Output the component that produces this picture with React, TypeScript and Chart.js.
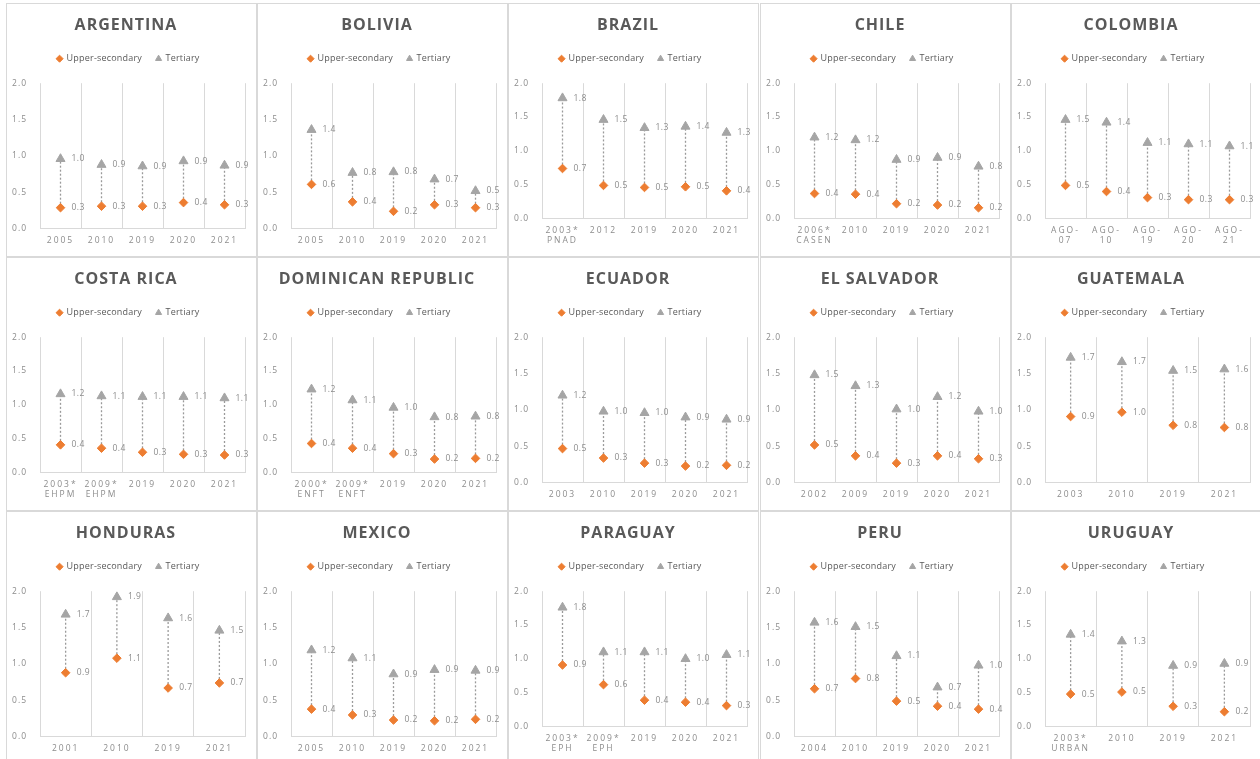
import React, { useEffect, useRef } from 'react';
import { Chart, registerables } from 'chart.js';

Chart.register(...registerables);

// ---------------- data ----------------
const seriesNames = ['Upper-secondary', 'Tertiary'];

const argentinaYears = ['2005', '2010', '2019', '2020', '2021'];
const argentinaUpper = [0.29, 0.31, 0.31, 0.36, 0.33];
const argentinaTertiary = [0.96, 0.88, 0.86, 0.93, 0.87];

const boliviaYears = ['2005', '2010', '2019', '2020', '2021'];
const boliviaUpper = [0.61, 0.37, 0.24, 0.33, 0.29];
const boliviaTertiary = [1.36, 0.77, 0.78, 0.68, 0.52];

const brazilYears = [['2003*', 'PNAD'], '2012', '2019', '2020', '2021'];
const brazilUpper = [0.74, 0.49, 0.46, 0.47, 0.41];
const brazilTertiary = [1.78, 1.46, 1.34, 1.36, 1.27];

const chileYears = [['2006*', 'CASEN'], '2010', '2019', '2020', '2021'];
const chileUpper = [0.37, 0.36, 0.22, 0.2, 0.16];
const chileTertiary = [1.2, 1.16, 0.87, 0.9, 0.77];

const colombiaYears = [['AGO-', '07'], ['AGO-', '10'], ['AGO-', '19'], ['AGO-', '20'], ['AGO-', '21']];
const colombiaUpper = [0.49, 0.4, 0.31, 0.28, 0.28];
const colombiaTertiary = [1.46, 1.42, 1.12, 1.1, 1.07];

const costaRicaYears = [['2003*', 'EHPM'], ['2009*', 'EHPM'], '2019', '2020', '2021'];
const costaRicaUpper = [0.41, 0.36, 0.3, 0.27, 0.26];
const costaRicaTertiary = [1.16, 1.13, 1.12, 1.12, 1.1];

const dominicanYears = [['2000*', 'ENFT'], ['2009*', 'ENFT'], '2019', '2020', '2021'];
const dominicanUpper = [0.43, 0.36, 0.28, 0.2, 0.21];
const dominicanTertiary = [1.23, 1.07, 0.96, 0.82, 0.83];

const ecuadorYears = ['2003', '2010', '2019', '2020', '2021'];
const ecuadorUpper = [0.47, 0.34, 0.27, 0.23, 0.24];
const ecuadorTertiary = [1.2, 0.98, 0.96, 0.9, 0.87];

const elSalvadorYears = ['2002', '2009', '2019', '2020', '2021'];
const elSalvadorUpper = [0.52, 0.37, 0.27, 0.37, 0.33];
const elSalvadorTertiary = [1.48, 1.33, 1.01, 1.18, 0.98];

const guatemalaYears = ['2003', '2010', '2019', '2021'];
const guatemalaUpper = [0.91, 0.97, 0.79, 0.76];
const guatemalaTertiary = [1.72, 1.66, 1.54, 1.56];

const hondurasYears = ['2001', '2010', '2019', '2021'];
const hondurasUpper = [0.88, 1.08, 0.67, 0.74];
const hondurasTertiary = [1.68, 1.92, 1.63, 1.46];

const mexicoYears = ['2005', '2010', '2019', '2020', '2021'];
const mexicoUpper = [0.38, 0.3, 0.23, 0.22, 0.24];
const mexicoTertiary = [1.19, 1.08, 0.86, 0.92, 0.91];

const paraguayYears = [['2003*', 'EPH'], ['2009*', 'EPH'], '2019', '2020', '2021'];
const paraguayUpper = [0.91, 0.62, 0.39, 0.36, 0.31];
const paraguayTertiary = [1.76, 1.1, 1.1, 1.0, 1.06];

const peruYears = ['2004', '2010', '2019', '2020', '2021'];
const peruUpper = [0.66, 0.8, 0.49, 0.42, 0.38];
const peruTertiary = [1.57, 1.51, 1.11, 0.68, 0.98];

const uruguayYears = [['2003*', 'URBAN'], '2010', '2019', '2021'];
const uruguayUpper = [0.48, 0.51, 0.3, 0.22];
const uruguayTertiary = [1.36, 1.26, 0.9, 0.93];

const yTicks = [0, 0.5, 1.0, 1.5, 2.0];

const panels = [
  { title: 'ARGENTINA', labels: argentinaYears, upper: argentinaUpper, tertiary: argentinaTertiary },
  { title: 'BOLIVIA', labels: boliviaYears, upper: boliviaUpper, tertiary: boliviaTertiary },
  { title: 'BRAZIL', labels: brazilYears, upper: brazilUpper, tertiary: brazilTertiary },
  { title: 'CHILE', labels: chileYears, upper: chileUpper, tertiary: chileTertiary },
  { title: 'COLOMBIA', labels: colombiaYears, upper: colombiaUpper, tertiary: colombiaTertiary },
  { title: 'COSTA RICA', labels: costaRicaYears, upper: costaRicaUpper, tertiary: costaRicaTertiary },
  { title: 'DOMINICAN REPUBLIC', labels: dominicanYears, upper: dominicanUpper, tertiary: dominicanTertiary },
  { title: 'ECUADOR', labels: ecuadorYears, upper: ecuadorUpper, tertiary: ecuadorTertiary },
  { title: 'EL SALVADOR', labels: elSalvadorYears, upper: elSalvadorUpper, tertiary: elSalvadorTertiary },
  { title: 'GUATEMALA', labels: guatemalaYears, upper: guatemalaUpper, tertiary: guatemalaTertiary },
  { title: 'HONDURAS', labels: hondurasYears, upper: hondurasUpper, tertiary: hondurasTertiary },
  { title: 'MEXICO', labels: mexicoYears, upper: mexicoUpper, tertiary: mexicoTertiary },
  { title: 'PARAGUAY', labels: paraguayYears, upper: paraguayUpper, tertiary: paraguayTertiary },
  { title: 'PERU', labels: peruYears, upper: peruUpper, tertiary: peruTertiary },
  { title: 'URUGUAY', labels: uruguayYears, upper: uruguayUpper, tertiary: uruguayTertiary },
];

// ---------------- styling ----------------
const FONT = "'Open Sans', 'Noto Sans', 'DejaVu Sans', sans-serif";
const ORANGE = '#ED7D31';
const GREY = '#A5A5A5';
const TITLE_COLOR = '#595959';
const TICK_COLOR = '#8c8c8c';
const LABEL_COLOR = '#8c8c8c';
const GRID = '#d9d9d9';

const COL_LEFT = [6, 257, 508, 760, 1011];
const ROW_TOP = [3, 257, 511];
const PANEL_W = 251;
const PANEL_H = 254;

const fmt = (v: number) => (Math.round(v * 10) / 10).toFixed(1);

function patchSpacing(obj: any, key: string, spacing: string) {
  if (!obj || !obj[key]) return;
  const flag = '__ls_' + key;
  if (obj[flag]) return;
  const orig = obj[key];
  obj[key] = function (...args: any[]) {
    const ctx = this.ctx;
    const prev = ctx.letterSpacing;
    ctx.letterSpacing = spacing;
    try {
      return orig.apply(this, args);
    } finally {
      ctx.letterSpacing = prev;
    }
  };
  obj[flag] = true;
}

const spacingPlugin = {
  id: 'spacingPlugin',
  beforeLayout(chart: any) {
    const lg = chart.legend;
    if (lg && !lg.__gap) {
      const fit = lg.fit;
      lg.fit = function () {
        fit.call(this);
        this.height += 10;
      };
      lg.__gap = true;
    }
  },
  beforeDraw(chart: any) {
    patchSpacing(chart.titleBlock, 'draw', '1px');
    patchSpacing(chart.legend, 'draw', '0.2px');
    patchSpacing(chart.scales.x, 'drawLabels', '2px');
    patchSpacing(chart.scales.y, 'drawLabels', '1px');
  },
};

const dumbbellPlugin = {
  id: 'dumbbellPlugin',
  beforeDatasetsDraw(chart: any) {
    const ctx = chart.ctx;
    const m0 = chart.getDatasetMeta(0);
    const m1 = chart.getDatasetMeta(1);
    ctx.save();
    ctx.strokeStyle = '#9a9a9a';
    ctx.lineWidth = 1.3;
    ctx.setLineDash([2, 2]);
    m0.data.forEach((p: any, i: number) => {
      const q = m1.data[i];
      if (!q) return;
      ctx.beginPath();
      ctx.moveTo(p.x, p.y);
      ctx.lineTo(q.x, q.y);
      ctx.stroke();
    });
    ctx.restore();
  },
  afterDatasetsDraw(chart: any) {
    const ctx = chart.ctx;
    ctx.save();
    ctx.fillStyle = LABEL_COLOR;
    ctx.font = `8.5px ${FONT}`;
    ctx.letterSpacing = '0.5px';
    ctx.textAlign = 'left';
    ctx.textBaseline = 'middle';
    chart.data.datasets.forEach((ds: any, di: number) => {
      const meta = chart.getDatasetMeta(di);
      meta.data.forEach((p: any, i: number) => {
        ctx.fillText(fmt(ds.data[i]), p.x + 11, p.y);
      });
    });
    ctx.restore();
  },
};

function Panel(props: any) {
  const { title, labels, upper, tertiary, left, top } = props;
  const ref = useRef<HTMLCanvasElement>(null);
  useEffect(() => {
    const lines = Math.max(...labels.map((l: any) => (Array.isArray(l) ? l.length : 1)));
    const chart = new Chart(ref.current as HTMLCanvasElement, {
      type: 'line',
      data: {
        labels,
        datasets: [
          {
            label: seriesNames[0],
            data: upper,
            showLine: false,
            pointStyle: 'rectRot',
            pointRadius: 4.3,
            pointHoverRadius: 4.3,
            pointBorderWidth: 1,
            backgroundColor: ORANGE,
            borderColor: ORANGE,
          },
          {
            label: seriesNames[1],
            data: tertiary,
            showLine: false,
            pointStyle: 'triangle',
            pointRadius: 5.2,
            pointHoverRadius: 5.2,
            pointBorderWidth: 1,
            backgroundColor: GREY,
            borderColor: GREY,
          },
        ],
      } as any,
      options: {
        animation: false,
        responsive: false,
        maintainAspectRatio: false,
        layout: { autoPadding: false, padding: { top: 0, left: 0, right: 11, bottom: 10 } },
        plugins: {
          title: {
            display: true,
            text: title,
            color: TITLE_COLOR,
            font: { family: FONT, size: 16, weight: 'bold' },
            padding: { top: 12, bottom: 5 },
          },
          legend: {
            display: true,
            position: 'top',
            labels: {
              usePointStyle: true,
              boxWidth: 5,
              boxHeight: 5,
              padding: 14,
              color: TITLE_COLOR,
              font: { family: FONT, size: 9 },
            },
          },
          tooltip: { enabled: false },
        },
        scales: {
          x: {
            offset: true,
            grid: { offset: true, color: GRID, drawTicks: false, lineWidth: 1 },
            border: { color: GRID },
            afterFit: (s: any) => {
              s.height = 8 + lines * 10.2 - 1;
            },
            ticks: {
              color: TICK_COLOR,
              font: { family: FONT, size: 8.5 },
              padding: 7,
              maxRotation: 0,
              minRotation: 0,
              autoSkip: false,
            },
          },
          y: {
            min: yTicks[0],
            max: yTicks[yTicks.length - 1],
            afterFit: (s: any) => {
              s.width = 33;
            },
            afterBuildTicks: (s: any) => {
              s.ticks = yTicks.map((v) => ({ value: v }));
            },
            grid: { display: false, drawTicks: false },
            border: { display: false },
            ticks: {
              padding: 13,
              color: TICK_COLOR,
              font: { family: FONT, size: 8.5 },
              callback: (v: any) => Number(v).toFixed(1),
            },
          },
        },
      } as any,
      plugins: [spacingPlugin, dumbbellPlugin],
    });
    return () => chart.destroy();
  }, []);
  return (
    <div
      style={{
        position: 'absolute',
        left,
        top,
        width: PANEL_W,
        height: PANEL_H,
        boxSizing: 'border-box',
        border: `1px solid ${GRID}`,
        background: '#fff',
      }}
    >
      <canvas ref={ref} width={PANEL_W - 2} height={PANEL_H - 2} style={{ display: 'block' }} />
    </div>
  );
}

export default function App() {
  return (
    <div
      style={{
        position: 'absolute',
        left: 0,
        top: 0,
        width: 1260,
        height: 759,
        overflow: 'hidden',
        background: '#fff',
      }}
    >
      {panels.map((p, i) => (
        <Panel key={i} {...p} left={COL_LEFT[i % 5]} top={ROW_TOP[Math.floor(i / 5)]} />
      ))}
    </div>
  );
}
